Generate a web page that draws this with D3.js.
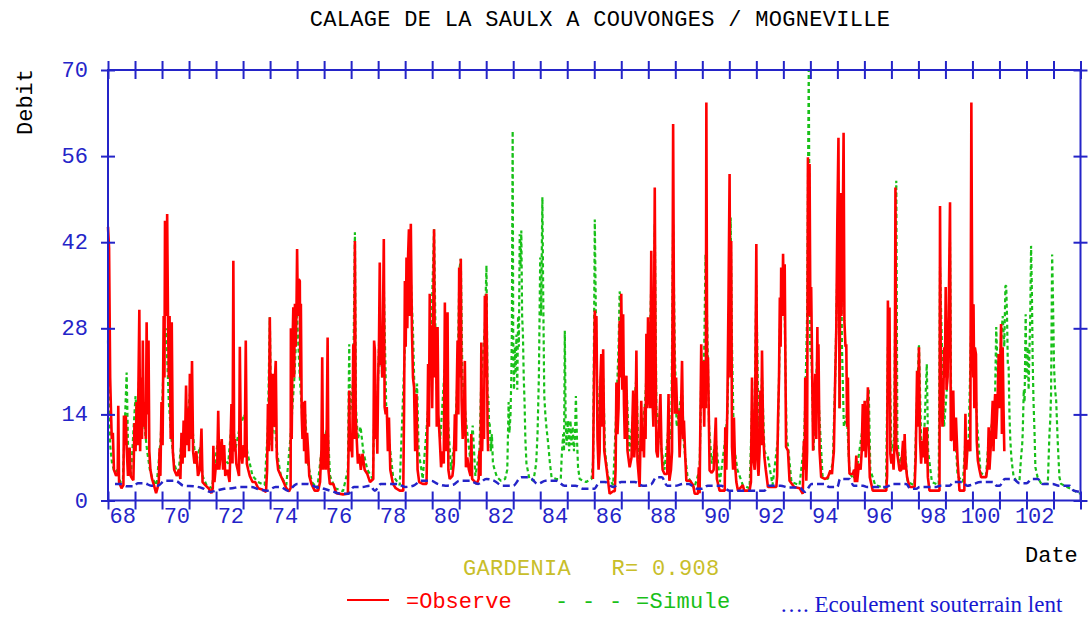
<!DOCTYPE html>
<html>
<head>
<meta charset="utf-8">
<script src="https://cdn.jsdelivr.net/npm/d3@7/dist/d3.min.js"></script>
<style>
  html, body { margin: 0; padding: 0; background: #ffffff; }
  svg { display: block; }
  .mono { font-family: "Liberation Mono", "Courier New", monospace; font-size: 22px; }
</style>
</head>
<body>
<svg id="chart" width="1088" height="617"></svg>
<script>
// Calage GARDENIA - la Saulx a Couvonges / Mogneville (debits en m3/s, annees decimales)

const yTicks = [0, 14, 28, 42, 56, 70];
const yearTicks = d3.range(1968, 2005);
const yearLabels = d3.range(1968, 2003, 2);

// Debit observe, 1968 - 1982
const observedA = [
[1968.00,44.5],[1968.04,41],[1968.08,20],[1968.11,14.6],[1968.14,10],[1968.18,11],[1968.22,5],[1968.30,4],[1968.36,4.5],[1968.38,15.4],[1968.41,3],[1968.50,2],[1968.57,2.5],[1968.59,13.8],[1968.63,9],[1968.66,13.8],[1968.69,8.6],[1968.74,4],[1968.80,8.6],[1968.84,4],[1968.90,3.5],[1968.94,3.3],[1968.98,12.6],[1969.02,8],[1969.06,16],[1969.10,9],[1969.13,20],[1969.16,31],[1969.19,8],[1969.23,20],[1969.26,10],[1969.29,26],[1969.32,12],[1969.36,16],[1969.40,10],[1969.43,29],[1969.46,14],[1969.50,26],[1969.53,8],[1969.57,5],[1969.63,3.5],[1969.70,2.5],[1969.78,1.2],[1969.83,2],[1969.88,3],[1969.91,8.5],[1969.94,4],[1969.98,16],[1970.02,9],[1970.06,30],[1970.09,20],[1970.11,45.5],[1970.14,30],[1970.17,35],[1970.19,46.6],[1970.22,30],[1970.25,20],[1970.28,30],[1970.32,10],[1970.36,29],[1970.40,8],[1970.45,5],[1970.55,4],[1970.62,5],[1970.68,3.5],[1970.72,11],[1970.76,6],[1970.80,13],[1970.84,7],[1970.89,18.7],[1970.93,9],[1970.97,15],[1971.00,8],[1971.03,20.6],[1971.07,10],[1971.11,22.7],[1971.15,8],[1971.20,6],[1971.27,8],[1971.33,4],[1971.40,5],[1971.46,11.7],[1971.50,3],[1971.60,2.5],[1971.72,2],[1971.83,1.2],[1971.88,2],[1971.90,8.9],[1971.94,3],[1972.00,6],[1972.04,5],[1972.08,14.6],[1972.12,5],[1972.17,8],[1972.21,10],[1972.26,5],[1972.30,9],[1972.34,4],[1972.42,5],[1972.50,3],[1972.57,15.7],[1972.61,6],[1972.64,39],[1972.67,8],[1972.70,10],[1972.75,6],[1972.80,5],[1972.85,4],[1972.88,25],[1972.92,8],[1972.97,6],[1973.02,9],[1973.06,7],[1973.10,26],[1973.14,6],[1973.19,5],[1973.25,4],[1973.35,3],[1973.45,3],[1973.56,2],[1973.70,1.8],[1973.85,1.4],[1973.89,5],[1973.92,15.7],[1973.95,8],[1973.99,29.8],[1974.03,12],[1974.07,8],[1974.10,20.6],[1974.14,12],[1974.18,20],[1974.21,22.7],[1974.25,7],[1974.30,5],[1974.40,4],[1974.50,3],[1974.60,2],[1974.70,1.5],
[1974.76,2],[1974.77,28],[1974.80,10],[1974.83,25],[1974.86,31.4],[1974.89,20],[1974.92,32],[1974.95,25],[1974.98,32],[1975.00,40.9],[1975.03,30],[1975.06,36],[1975.10,35.7],[1975.12,20],[1975.14,32],[1975.17,14],[1975.20,10],[1975.23,16],[1975.26,8],[1975.29,16.2],[1975.33,6],[1975.37,11],[1975.41,8],[1975.45,4],[1975.53,2.7],[1975.65,1.6],[1975.78,1.6],[1975.85,3],[1975.88,6.5],[1975.90,8],[1975.93,23.3],[1975.96,5],[1975.99,10],[1976.03,10.8],[1976.06,5],[1976.09,8],[1976.13,26.5],[1976.16,5],[1976.21,2.7],[1976.34,2.7],[1976.45,1.2],[1976.70,1],[1976.88,1.1],[1976.91,10],[1976.93,17.9],[1976.96,8],[1977.00,10],[1977.04,7],[1977.08,25.4],[1977.11,10],[1977.14,42.2],[1977.17,13.5],[1977.21,9.7],[1977.25,6],[1977.30,7.6],[1977.36,5],[1977.42,7.6],[1977.50,5],[1977.60,4.3],[1977.70,3],[1977.82,3.5],[1977.85,26],[1977.88,24.4],[1977.91,10],[1977.94,14],[1977.97,7.6],[1978.00,20],[1978.03,25],[1978.06,38.7],[1978.09,22],[1978.12,28.2],[1978.15,20],[1978.18,30],[1978.21,42.5],[1978.24,15.2],[1978.28,14],[1978.32,15.2],[1978.36,8],[1978.40,13.5],[1978.45,5],[1978.55,2.7],[1978.65,2],[1978.80,1.6],[1978.93,1.6],[1978.96,15],[1978.99,35.7],[1979.02,25],[1979.05,39.5],[1979.08,28],[1979.11,40],[1979.14,44.1],[1979.17,30],[1979.21,45],[1979.25,28],[1979.29,20],[1979.33,18.4],[1979.37,8],[1979.42,17.3],[1979.46,5],[1979.52,3],[1979.65,2.7],[1979.79,2.7],[1979.82,10],[1979.85,22.2],[1979.88,12],[1979.91,33.6],[1979.94,20],[1979.97,28.5],[1980.00,15],[1980.04,30],[1980.07,44.1],[1980.10,20],[1980.14,28.2],[1980.17,12],[1980.20,28.2],[1980.23,14],[1980.28,10],[1980.33,5.4],[1980.38,8],[1980.43,6],[1980.47,32.2],[1980.50,8],[1980.54,12],[1980.57,30.6],[1980.60,5],[1980.65,3.5],[1980.75,4],[1980.80,6],[1980.84,14],[1980.88,8],[1980.91,18],[1980.94,26],[1980.97,14],[1981.00,37.9],[1981.03,20],[1981.06,39.3],[1981.09,16.2],[1981.13,10],[1981.17,12],[1981.21,22.7],[1981.25,5.4],[1981.30,7],[1981.36,5],[1981.42,4],
[1981.45,10.8],[1981.48,3.5],[1981.55,3.2],[1981.65,2.7],[1981.72,3.5],[1981.75,8.1],[1981.79,4],[1981.82,25.7],[1981.85,8],[1981.89,16.8],[1981.92,10],[1981.95,33.3],[1981.98,20],[1982.01,33.6],[1982.05,12],[1982.07,8]
];

// Debit observe, 1986 - 2001
const observedB = [
[1985.95,3.5],[1986.02,30.9],[1986.05,28],[1986.08,30],[1986.12,10],[1986.16,5],[1986.20,8],[1986.23,20],[1986.26,23.8],[1986.30,12],[1986.33,24.6],[1986.37,8.1],[1986.45,5.4],[1986.57,1.1],[1986.70,1.5],[1986.76,1.5],[1986.79,5],[1986.82,19.2],[1986.86,10.8],[1986.90,15],[1986.94,29.2],[1986.97,20],[1987.00,33.6],[1987.04,18],[1987.07,30.3],[1987.10,15.7],[1987.13,10],[1987.16,15],[1987.19,20.3],[1987.23,8.1],[1987.31,5.4],[1987.38,7],[1987.44,17.9],[1987.48,7],[1987.52,10],[1987.56,24.4],[1987.60,6.5],[1987.68,2.2],[1987.74,16.2],[1987.78,8],[1987.81,10.8],[1987.84,7],[1987.87,15.2],[1987.90,10],[1987.93,27.1],[1987.96,15],[1987.99,29.8],[1988.03,17.3],[1988.07,15],[1988.11,40.6],[1988.15,17.3],[1988.19,12],[1988.24,50.9],
[1988.27,24.4],[1988.30,8],[1988.35,7],[1988.40,12],[1988.45,17.3],[1988.49,8],[1988.53,5],[1988.60,4.3],[1988.70,4.3],[1988.75,17.3],[1988.78,3.2],[1988.84,5],[1988.88,8],[1988.92,61.2],[1988.95,30.9],[1988.99,14.1],[1989.03,20],[1989.07,14.1],[1989.12,14.6],[1989.16,7],[1989.20,12],[1989.25,22.7],[1989.29,10],[1989.32,13],[1989.37,7],[1989.41,3.2],[1989.55,3.2],[1989.66,2.5],[1989.72,1.1],[1989.84,1.1],[1989.87,5.4],[1989.90,1.2],[1989.96,25.4],[1990.00,15],[1990.03,22.7],[1990.07,12],[1990.10,22.7],[1990.13,15],[1990.15,64.7],[1990.18,20],[1990.21,23.3],[1990.27,4.9],[1990.35,4.5],[1990.42,5],[1990.50,13.5],[1990.54,3.5],[1990.64,1.6],[1990.83,1.6],[1990.85,11.9],[1990.89,5],[1990.93,16.2],[1990.97,33],[1991.01,53.1],[1991.04,20],[1991.07,42.2],[1991.10,8.7],[1991.14,5],[1991.17,13.5],[1991.21,6],[1991.26,3],[1991.32,1.6],[1991.50,2.5],[1991.55,1.6],[1991.75,1.6],[1991.80,3],[1991.84,20],[1991.88,7],[1991.94,5],[1992.00,41.7],[1992.04,6.5],[1992.08,4],[1992.12,8],[1992.15,17.9],[1992.18,9],[1992.21,24.4],[1992.25,11.4],[1992.30,7],[1992.35,5],[1992.43,2.2],[1992.74,2.2],[1992.77,4],[1992.80,12.5],[1992.84,20],[1992.87,33],[1992.90,25],[1992.92,37.9],[1992.96,30],[1992.99,40.1],[1993.02,30],[1993.05,38.4],[1993.10,8.7],[1993.17,8.1],[1993.23,3.2],[1993.40,2.2],[1993.60,2],[1993.72,1.1],[1993.76,9.7],[1993.79,5],[1993.81,20],[1993.85,3.2],[1993.88,8],[1993.91,55.8],[1993.94,30],[1993.97,54.7],[1994.00,30],[1994.03,34.7],[1994.07,20],[1994.10,8.1],[1994.14,15],[1994.18,20.6],[1994.22,10],[1994.26,28.2],[1994.28,15],[1994.30,25.4],[1994.34,8.1],[1994.40,3.8],[1994.55,3.5],[1994.65,3.8],[1994.74,4.9],[1994.80,4.3],[1994.83,6],[1994.87,8],[1994.92,20],[1994.96,28],[1995.00,46],[1995.04,59],
[1995.08,15],[1995.12,50],[1995.15,30],[1995.19,40],[1995.23,59.8],[1995.26,29.2],[1995.30,25],[1995.33,25.4],[1995.36,12],[1995.39,20],[1995.42,7.6],[1995.45,4.3],[1995.57,4.3],[1995.62,5],[1995.65,3],[1995.70,7.3],[1995.73,3],[1995.80,6],[1995.86,5],[1995.90,8],[1995.94,15.7],[1995.97,8],[1996.01,16.2],[1996.05,7],[1996.09,11.4],[1996.13,18.4],[1996.16,9.7],[1996.20,3.8],[1996.31,1.6],[1996.50,1.6],[1996.81,1.6],[1996.84,4],[1996.87,32.5],[1996.90,20],[1996.93,31.4],[1996.96,7.6],[1997.00,6],[1997.04,7.6],[1997.08,5],[1997.12,9.7],[1997.15,50.9],[1997.18,9],[1997.22,7.6],[1997.30,4.9],[1997.36,4.9],[1997.43,9.7],[1997.46,5],[1997.49,10.8],[1997.52,6.5],[1997.58,3.8],[1997.67,2.2],[1997.86,2.2],[1997.90,7],[1997.95,21.1],[1997.98,12],[1998.02,24.9],[1998.06,9.7],[1998.10,6],[1998.14,9.7],[1998.18,7],[1998.22,11.9],[1998.26,6],[1998.31,11.9],[1998.35,3.8],[1998.41,1.6],[1998.78,1.6],[1998.80,47.9],[1998.83,20],[1998.86,17.3],[1998.89,12],[1998.92,15.7],[1998.95,24.9],[1998.98,20],[1999.01,34.7],[1999.04,18],[1999.08,20],[1999.12,30],[1999.17,48.5],[1999.20,9.7],[1999.24,10],[1999.29,17.9],[1999.33,8],[1999.39,13.5],[1999.45,6.5],[1999.52,1.6],[1999.70,1.6],[1999.74,14.1],[1999.77,5],[1999.83,9.7],[1999.89,9.7],[1999.92,8],[1999.96,64.7],[1999.99,31.9],[2000.03,20],[2000.04,31.9],[2000.07,15],[2000.09,24.9],[2000.13,23.8],[2000.16,9.7],[2000.20,6.5],[2000.26,5],[2000.32,3.8],[2000.51,3.8],[2000.57,6],[2000.60,11.9],[2000.63,5],[2000.69,9.7],[2000.75,16.2],[2000.78,8],[2000.81,14.6],[2000.84,17.3],[2000.87,10],[2000.93,16],[2000.97,23.8],[2001.00,15],[2001.06,28.7],[2001.09,10.8],[2001.12,24.9],[2001.15,15],[2001.18,8]
];

// Debit simule par GARDENIA, 1968 - 2004
const simulated = [
[1968.00,26],[1968.03,20],[1968.08,9],[1968.15,6],[1968.25,4.5],[1968.35,5],[1968.45,3],[1968.55,3.2],[1968.62,12],[1968.69,20.8],[1968.75,7],[1968.85,4],[1968.95,12],[1969.02,17],[1969.08,13],[1969.15,20],[1969.25,14],[1969.35,12],[1969.45,8],[1969.55,5],[1969.65,3.5],[1969.80,2.5],[1969.95,10],[1970.00,14.6],[1970.08,25],[1970.15,28],[1970.25,16],[1970.35,10],[1970.45,6],[1970.60,4],[1970.70,8.7],[1970.80,7],[1970.95,14],[1971.05,18],[1971.12,12],[1971.25,6],[1971.40,8.7],[1971.50,4],[1971.65,2.5],[1971.85,2],[1971.95,6],[1972.08,10],[1972.25,7],[1972.45,6],[1972.62,15],[1972.70,8],[1972.88,12],[1973.05,14],[1973.15,8],[1973.35,4],[1973.55,3],[1973.80,2.5],[1973.92,12],[1973.99,29.8],[1974.05,9],[1974.15,14],[1974.25,8],[1974.40,4],[1974.60,2.5],[1974.75,10],[1974.90,20],[1975.00,30],[1975.10,20],[1975.20,13],[1975.30,14],[1975.40,6],[1975.55,3],[1975.75,2],[1975.90,8],[1976.00,10],[1976.13,12],[1976.22,4],[1976.40,2],[1976.70,1.5],[1976.88,5],[1976.93,25.4],[1976.96,14],[1977.03,17],[1977.08,20],[1977.14,43.6],[1977.18,15],[1977.25,10],[1977.35,12],[1977.45,8],[1977.60,5],[1977.80,3.5],[1977.88,18],[1977.95,12],[1978.06,30],[1978.15,20],[1978.21,35],[1978.30,15],[1978.40,10],[1978.55,4],[1978.80,2.5],[1978.99,25],[1979.05,30],[1979.14,38],[1979.21,36],[1979.29,27.6],[1979.36,15],[1979.44,19],[1979.50,8],[1979.65,3.5],[1979.85,15],[1979.95,25],[1980.07,44.1],[1980.13,25],[1980.20,14],[1980.30,10],[1980.47,22],[1980.57,14],[1980.70,5],[1980.84,10],[1980.94,20],[1981.01,37.6],[1981.06,39.3],[1981.12,20],[1981.21,15],[1981.30,11],[1981.40,7],[1981.50,12.2],[1981.60,4],[1981.75,8],[1981.82,20],[1981.95,28],[1982.01,38.2],
[1982.05,17],[1982.08,16.8],[1982.11,12],[1982.13,12.5],[1982.17,8],[1982.21,10.8],[1982.25,6],[1982.32,4.9],[1982.40,3.8],[1982.55,3.2],[1982.70,3.5],[1982.78,5],[1982.83,16],[1982.86,11],[1982.90,14],[1982.93,20],[1982.95,27.6],[1982.98,60.1],[1983.00,27],[1983.03,18],[1983.06,25],[1983.09,20.6],[1983.12,27],[1983.15,18],[1983.18,30],[1983.21,25],[1983.24,43.3],[1983.27,38],[1983.30,43.9],[1983.33,30],[1983.36,27],[1983.39,20],[1983.42,16],[1983.45,10],[1983.49,6],[1983.60,3.5],[1983.75,3.2],[1983.85,6],[1983.90,10.8],[1983.95,20],[1984.00,39.5],[1984.03,30],[1984.05,37.4],[1984.08,49.3],[1984.11,33.6],[1984.15,17],[1984.19,14],[1984.23,11.9],[1984.30,9],[1984.36,6],[1984.42,3.8],[1984.60,3.5],[1984.76,3.5],[1984.80,7.6],[1984.85,10.8],[1984.88,8],[1984.91,27.6],[1984.94,13.5],[1984.97,9],[1985.00,11],[1985.03,13],[1985.07,8],[1985.12,13],[1985.16,9],[1985.20,12],[1985.25,8],[1985.29,11],[1985.32,17],[1985.36,10],[1985.40,5.4],[1985.46,3.5],[1985.70,3],[1985.90,3.5],[1985.96,6.5],[1986.02,45.7],[1986.06,30.3],
[1986.10,20],[1986.18,10],[1986.26,22],[1986.33,20],[1986.40,8],[1986.50,4],[1986.70,2.5],[1986.82,15],[1986.90,25],[1986.94,34],[1986.98,32],[1987.05,25],[1987.12,15],[1987.20,18],[1987.30,8],[1987.44,14],[1987.56,20],[1987.65,5],[1987.75,12],[1987.87,15],[1987.95,22],[1987.99,17.3],[1988.05,25],[1988.11,35],[1988.18,20],[1988.24,45],[1988.30,15],[1988.40,12],[1988.50,8],[1988.60,5],[1988.75,12],[1988.85,10],[1988.92,45],[1988.98,25],[1989.05,12],[1989.12,14],[1989.25,18],[1989.32,9],[1989.45,4],[1989.70,2],[1989.90,5],[1989.96,20],[1990.05,18],[1990.12,40],[1990.19,26.8],[1990.25,12],[1990.35,6],[1990.50,10],[1990.65,3],[1990.85,10],[1990.93,14],[1991.00,30],[1991.05,46],[1991.10,25],[1991.17,9],[1991.30,5],[1991.50,2.5],[1991.75,2],[1991.84,15],[1991.92,10],[1992.00,35],[1992.08,12],[1992.15,14],[1992.21,20],[1992.30,8],[1992.43,7],[1992.60,2.5],[1992.80,10],[1992.87,28],[1992.92,32],[1992.99,36],[1993.05,30],[1993.12,10],[1993.17,9],[1993.30,3],[1993.60,2.5],[1993.76,9],[1993.81,16],[1993.88,30],[1993.94,70],[1993.99,25],[1994.05,22],[1994.12,8],[1994.18,17],[1994.26,24],[1994.32,15],[1994.45,4],[1994.65,3.5],[1994.83,6],[1994.92,20],[1995.00,38],[1995.04,52],[1995.08,15],[1995.12,50],[1995.17,25],[1995.24,12],[1995.35,14],[1995.45,4.5],[1995.60,3.5],[1995.75,6],[1995.94,12],[1996.05,14],[1996.16,18.1],[1996.22,5],[1996.40,2.5],[1996.80,2],[1996.87,25],[1996.93,24],[1997.00,8],[1997.10,10],[1997.18,52],[1997.22,10],[1997.30,6],[1997.43,8],[1997.49,9],[1997.60,3],[1997.85,2.5],[1997.95,17],[1998.02,25.4],[1998.10,10],[1998.20,9],[1998.31,22.2],[1998.36,8],[1998.50,3],[1998.75,2.5],[1998.80,38],[1998.88,23.5],[1998.95,12],[1999.05,18],[1999.12,28],[1999.17,42],[1999.22,10],[1999.33,13.5],[1999.45,4],[1999.65,3],[1999.74,10],[1999.85,8],[1999.96,30],[2000.01,31.9],[2000.09,20],[2000.18,12],[2000.30,4.5],[2000.50,4],[2000.60,10],[2000.75,13],[2000.82,12],[2000.88,28.2],[2000.94,20],[2001.00,22],[2001.06,26],[2001.12,30],[2001.18,25],[2001.22,34.9],
[2001.25,34.9],[2001.28,30],[2001.31,22],[2001.34,21.7],[2001.37,14],[2001.40,10],[2001.44,7],[2001.48,5.4],[2001.52,4],[2001.62,3.2],[2001.74,3.2],[2001.80,7],[2001.84,9],[2001.86,10.8],[2001.90,18],[2001.93,16],[2001.97,30.3],[2002.00,20],[2002.04,25],[2002.08,18],[2002.11,24.4],[2002.14,30],[2002.17,41.4],[2002.20,34.1],[2002.23,22.7],[2002.26,16.2],[2002.30,10.8],[2002.33,5.4],[2002.41,3.8],[2002.55,2.7],[2002.79,2.7],[2002.85,10.8],[2002.88,13],[2002.91,17.3],[2002.95,40],[2002.98,33],[2003.02,21.7],[2003.06,18],[2003.10,16.2],[2003.16,9.2],[2003.22,3.8],[2003.28,2.7],[2003.50,2.2],[2003.77,1.6],[2004.00,1.1]
];

// Ecoulement souterrain lent (composante lente du modele)
const baseflow = [
[1968.26,2.7],[1968.45,2.7],[1968.70,2.3],[1968.95,2.3],[1969.10,2.8],[1969.35,2.8],[1969.60,2.4],[1969.85,2.4],[1970.10,3.2],[1970.50,3.2],[1970.80,2.4],[1971.20,2.3],[1971.50,2.0],[1971.80,1.4],[1972.00,1.6],[1972.30,1.9],[1972.60,2.0],[1972.90,2.2],[1973.30,2.2],[1973.60,1.8],[1973.90,1.6],[1974.20,2.2],[1974.40,2.2],[1974.65,1.6],[1975.00,2.7],[1975.40,2.7],[1975.70,2.2],[1976.00,1.9],[1976.30,1.5],[1976.60,1.1],[1976.90,1.1],[1977.10,2.2],[1977.40,2.2],[1977.70,2.4],[1977.88,1.6],[1978.10,2.7],[1978.70,2.7],[1979.00,2.2],[1979.30,2.4],[1979.60,3.2],[1979.97,3.2],[1980.20,2.7],[1980.50,2.4],[1980.80,2.6],[1981.00,3.2],[1981.40,3.2],[1981.70,2.7],[1982.00,3.5],[1982.30,3.2],[1982.60,2.4],[1983.00,2.4],[1983.30,3.8],[1983.60,3.8],[1983.90,2.7],[1984.20,3.2],[1984.60,3.2],[1984.90,2.4],[1985.30,2.4],[1985.60,1.9],[1986.00,1.9],[1986.20,3.0],[1986.40,3.0],[1986.70,2.2],[1987.00,3.0],[1987.50,3.0],[1987.80,2.4],[1988.10,2.6],[1988.30,3.8],[1988.50,3.8],[1988.70,2.4],[1989.00,2.4],[1989.30,2.7],[1989.50,2.7],[1989.80,1.9],[1990.00,1.9],[1990.20,2.4],[1990.70,2.4],[1991.00,1.6],[1991.45,1.6],[1991.80,1.6],[1992.30,1.6],[1992.45,2.4],[1992.90,2.4],[1993.20,2.1],[1993.60,2.1],[1993.80,1.4],[1994.05,2.7],[1994.50,2.7],[1994.70,2.2],[1995.00,2.2],[1995.10,3.5],[1995.45,3.5],[1995.60,2.4],[1995.95,2.4],[1996.10,2.2],[1996.80,2.2],[1997.05,2.7],[1997.55,2.7],[1997.70,1.9],[1997.92,1.9],[1998.05,2.2],[1998.65,2.2],[1998.80,2.4],[1999.15,2.4],[1999.30,3.0],[1999.65,3.0],[1999.80,2.4],[2000.00,2.6],[2000.30,3.0],[2000.75,3.0],[2000.90,2.4],[2001.00,2.4],[2001.20,3.5],[2001.50,3.5],[2001.75,2.8],[2002.00,2.8],[2002.20,3.5],[2002.42,3.5],[2002.60,2.7],[2002.97,2.7],[2003.20,2.4],[2003.60,2.4],[2003.75,1.6],[2004.00,1.4]
];

const AXIS = "#2424c8";
const RED = "#ff0000";
const GREEN = "#18c018";
const OLIVE = "#c8be2a";

const svg = d3.select("#chart");

const x = d3.scaleLinear().domain([1968, 2004]).range([108, 1080.5]);
const y = d3.scaleLinear().domain([0, 70]).range([500.5, 70]);

const line = d3.line().x(d => x(d[0])).y(d => y(d[1]));

const plot = svg.append("g");

// simule (tirets verts)
plot.append("path").datum(simulated)
  .attr("d", line).attr("fill", "none")
  .attr("stroke", GREEN).attr("stroke-width", 2.2)
  .attr("stroke-dasharray", "4,3").attr("stroke-linejoin", "bevel");

// observe (rouge)
[observedA, observedB].forEach(seg => {
  plot.append("path").datum(seg)
    .attr("d", line).attr("fill", "none")
    .attr("stroke", RED).attr("stroke-width", 2.6)
    .attr("stroke-linejoin", "bevel");
});

// ecoulement lent (pointilles bleus)
plot.append("path").datum(baseflow)
  .attr("d", line.curve(d3.curveMonotoneX)).attr("fill", "none")
  .attr("stroke", AXIS).attr("stroke-width", 2.5)
  .attr("stroke-dasharray", "7,4");

// cadre et graduations
function crossTicks(g, len, vertical) {
  g.select(".domain").remove();
  g.selectAll(".tick line")
    .attr("stroke", AXIS).attr("stroke-width", 2)
    .attr(vertical ? "x1" : "y1", -len).attr(vertical ? "x2" : "y2", len);
  g.selectAll(".tick text").remove();
}

const frame = svg.append("g");
frame.append("rect")
  .attr("x", x(1968)).attr("y", y(70))
  .attr("width", x(2004) - x(1968)).attr("height", y(0) - y(70))
  .attr("fill", "none").attr("stroke", AXIS).attr("stroke-width", 2);

frame.append("g").attr("transform", `translate(0,${y(70)})`)
  .call(d3.axisTop(x).tickValues(yearTicks).tickSize(0))
  .call(g => crossTicks(g, 9, false));
frame.append("g").attr("transform", `translate(0,${y(0)})`)
  .call(d3.axisBottom(x).tickValues(yearTicks).tickSize(0))
  .call(g => crossTicks(g, 9, false));
frame.append("g").attr("transform", `translate(${x(1968)},0)`)
  .call(d3.axisLeft(y).tickValues(yTicks).tickSize(0))
  .call(g => crossTicks(g, 7, true));
frame.append("g").attr("transform", `translate(${x(2004)},0)`)
  .call(d3.axisRight(y).tickValues(yTicks).tickSize(0))
  .call(g => crossTicks(g, 7, true));

// libelles des axes
svg.append("g").selectAll("text").data(yTicks).join("text")
  .attr("class", "mono").attr("fill", AXIS)
  .attr("x", 88).attr("y", d => y(d) + 7)
  .attr("text-anchor", "end")
  .text(d => d);

svg.append("g").selectAll("text").data(yearLabels).join("text")
  .attr("class", "mono").attr("fill", AXIS)
  .attr("x", d => x(d + 1) + 1).attr("y", 523)
  .attr("text-anchor", "end")
  .text(d => d - 1900);

svg.append("text").attr("class", "mono").attr("fill", "#000")
  .attr("x", 600).attr("y", 26).attr("text-anchor", "middle")
  .style("letter-spacing", "0.3px")
  .text("CALAGE DE LA SAULX A COUVONGES / MOGNEVILLE");

svg.append("text").attr("class", "mono").attr("fill", "#000")
  .attr("transform", "translate(32,102) rotate(-90)")
  .attr("text-anchor", "middle")
  .text("Debit");

svg.append("text").attr("class", "mono").attr("fill", "#000")
  .attr("x", 1025).attr("y", 562)
  .text("Date");

// legende
svg.append("text").attr("class", "mono").attr("fill", OLIVE)
  .attr("x", 463).attr("y", 575)
  .style("white-space", "pre")
  .style("letter-spacing", "0.3px")
  .text("GARDENIA   R= 0.908");

svg.append("line")
  .attr("x1", 347).attr("x2", 389).attr("y1", 600).attr("y2", 600)
  .attr("stroke", RED).attr("stroke-width", 2);
svg.append("text").attr("class", "mono").attr("fill", RED)
  .attr("x", 406).attr("y", 608)
  .text("=Observe");
svg.append("text").attr("class", "mono").attr("fill", GREEN)
  .attr("x", 555).attr("y", 608)
  .style("white-space", "pre")
  .style("letter-spacing", "0.3px")
  .text("- - - =Simule");

svg.append("text")
  .attr("x", 780).attr("y", 612)
  .attr("fill", "#1818d0")
  .style("font-family", "'Liberation Serif', 'Times New Roman', serif")
  .style("font-size", "23px")
  .text("…. Ecoulement souterrain lent");
</script>
</body>
</html>
